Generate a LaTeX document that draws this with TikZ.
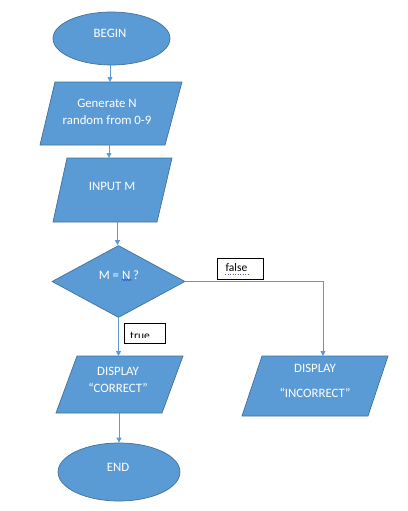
\documentclass[tikz,border=0pt]{standalone}
\usepackage{fontspec}
\setmainfont{Carlito}
\usetikzlibrary{shapes.geometric,arrows.meta,decorations.pathmorphing}
\definecolor{boxfill}{HTML}{5B9BD5}
\definecolor{boxline}{HTML}{41719C}
\definecolor{flowline}{HTML}{5B9BD5}
\definecolor{squiggle}{HTML}{2E4FD0}
\begin{document}
\begin{tikzpicture}[x=1pt,y=-1pt,
  shapestyle/.style={fill=boxfill,draw=boxline,line width=0.7pt},
  term/.style={shapestyle,ellipse,inner sep=0pt},
  decision/.style={shapestyle,diamond,inner sep=0pt},
  txt/.style={text=white,font=\fontsize{12.8}{17}\selectfont,align=center,inner sep=0pt},
  flow/.style={draw=flowline,line width=0.8pt,-{Triangle[length=5pt,width=5pt]}},
  tag/.style={draw=black,fill=white,line width=0.6pt},
  tagtext/.style={text=black,font=\fontsize{11.5}{12}\selectfont,inner sep=0pt}
]
\useasboundingbox (0,0) rectangle (407,511);
\fill[white] (0,0) rectangle (407,511);

% start terminal
\node[term,minimum width=117pt,minimum height=53pt] (begin) at (111.5,38.5) {};
\node[txt] (begintxt) at (110,33) {BEGIN};

% generate step (parallelogram)
\draw[shapestyle] (55,82) -- (182,82) -- (165,145) -- (40,145) -- cycle;
\node[txt] (gen) at (107,111.5) {Generate N\\random from 0-9};
\coordinate (genin) at (110,82);
\coordinate (genout) at (109,145);

% input step
\draw[shapestyle] (67,158) -- (172,158) -- (157,222) -- (53,222) -- cycle;
\node[txt] (input) at (112,186) {INPUT M};
\coordinate (inputin) at (109,158);
\coordinate (inputout) at (117.5,222);

% decision
\node[decision,minimum width=133pt,minimum height=72pt] (dec) at (118.5,281.5) {};
\node[txt] (dectxt) at (119,275) {M = N ?};
\draw[squiggle,line width=0.5pt,decorate,decoration={snake,amplitude=0.8pt,segment length=2.5pt}] (122,280) -- (132,280);

% outputs
\draw[shapestyle] (77,356) -- (183,356) -- (162,413) -- (56,413) -- cycle;
\node[txt] (ok) at (118,379.5) {DISPLAY\\“CORRECT”};
\coordinate (okin) at (118.5,356);
\coordinate (okout) at (119,413);

\draw[shapestyle] (262,356) -- (388,356) -- (368,416) -- (242,416) -- cycle;
\node[txt,font=\fontsize{12.8}{25}\selectfont] (bad) at (315,380.5) {DISPLAY\\“INCORRECT”};
\coordinate (badin) at (323,356);

% end terminal
\node[term,minimum width=122pt,minimum height=58pt] (end) at (119,472) {};
\node[txt] (endtxt) at (118,467) {END};

% connectors
\draw[flow] (begin.south -| genin) -- (genin);
\draw[flow] (genout) -- (inputin);
\draw[flow] (inputout) -- (dec.north -| inputout);
\draw[flow] (dec.east) -- (dec.east -| badin) -- (badin);
\draw[flow] (dec.south -| okin) -- (okin);
\draw[flow] (okout) -- (end.north -| okout);

% branch labels
\draw[tag] (217,258) rectangle (263,279.5);
\node[tagtext,anchor=base] (falsetxt) at (236.5,271.5) {false};
\draw[gray!70!blue,line width=0.5pt,dotted] (225,274) -- (249,274);

\draw[tag] (124,323) rectangle (165,343);
\begin{scope}
  \clip (124,323) rectangle (165,337.5);
  \node[tagtext,anchor=base] (truetxt) at (140,339) {true};
\end{scope}
\end{tikzpicture}
\end{document}
